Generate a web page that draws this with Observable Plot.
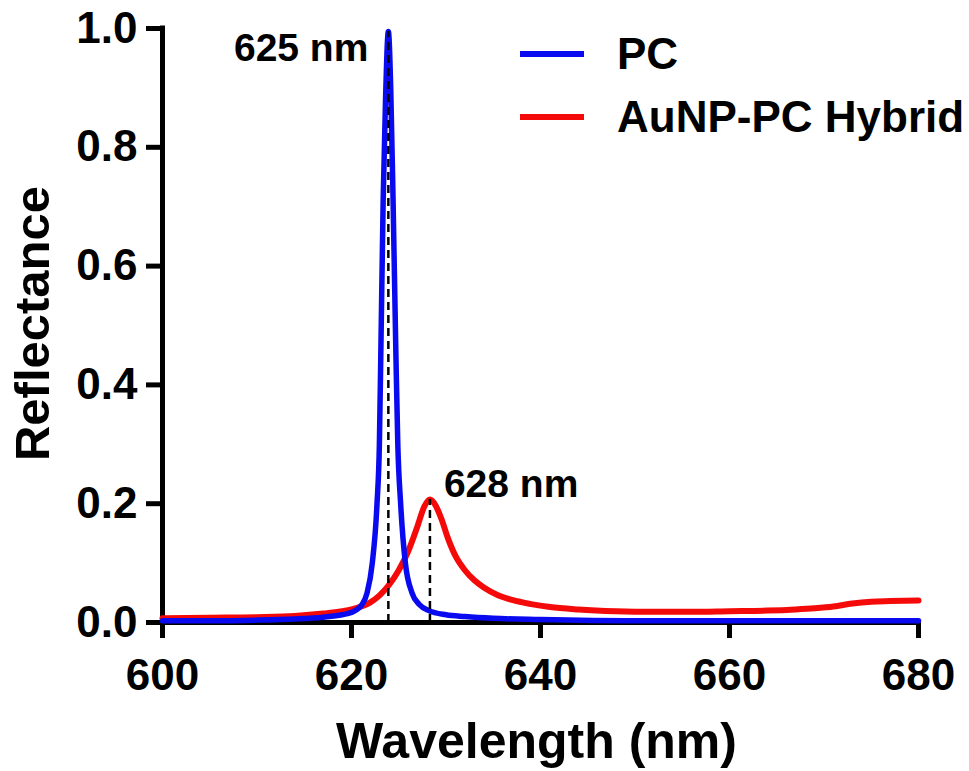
<!DOCTYPE html>
<html>
<head>
<meta charset="utf-8">
<script src="https://cdn.jsdelivr.net/npm/d3@7"></script>
<script src="https://cdn.jsdelivr.net/npm/@observablehq/plot@0.6"></script>
<style>
  html, body { margin: 0; padding: 0; background: #fff; }
  #wrap { position: relative; width: 969px; height: 771px; font-family: "Liberation Sans", Arial, sans-serif; }
  #legend { position: absolute; left: 0; top: 0; width: 969px; height: 771px; pointer-events: none; }
  .item { position: absolute; left: 520px; display: flex; align-items: center; height: 50px; }
  .sw { width: 64px; height: 6px; margin-right: 33px; }
  .lab { font-size: 44px; font-weight: bold; color: #000; white-space: nowrap; }
</style>
</head>
<body>
<div id="wrap">
  <div id="chart"></div>
  <div id="legend"></div>
</div>
<script>
// ---- Data ----
const seriesNames = ["PC", "AuNP-PC Hybrid"];
const seriesColors = ["#0a0af0", "#f50a0a"];

const pcWavelength = [600, 605, 610, 614, 617, 619, 620, 620.6, 621.1, 621.65, 622.2, 622.7, 622.95, 623.1, 623.35, 623.6, 623.9, 624.15, 624.4, 624.7, 624.9, 625.2, 625.7, 626.4, 627.2, 628.2, 630, 632, 635, 640, 650, 665, 680];
const pcReflectance = [0.003, 0.003, 0.004, 0.006, 0.009, 0.013, 0.017, 0.022, 0.030, 0.05, 0.10, 0.20, 0.30, 0.45, 0.71, 0.88, 0.995, 0.90, 0.71, 0.45, 0.30, 0.20, 0.10, 0.05, 0.03, 0.02, 0.013, 0.01, 0.007, 0.005, 0.003, 0.003, 0.003];

const hybridWavelength = [600, 605, 610, 614, 617, 619, 620, 621, 622, 623, 624, 625, 626, 627, 627.7, 628.3, 628.9, 629.5, 630.2, 631, 632, 633, 634, 635.5, 637, 639, 641, 644, 648, 652, 656, 660, 664, 667, 669, 671, 673, 675, 677, 680];
const hybridReflectance = [0.007, 0.008, 0.009, 0.011, 0.015, 0.019, 0.022, 0.027, 0.034, 0.046, 0.064, 0.088, 0.12, 0.163, 0.195, 0.207, 0.197, 0.175, 0.142, 0.112, 0.088, 0.071, 0.059, 0.046, 0.038, 0.031, 0.026, 0.022, 0.019, 0.018, 0.018, 0.019, 0.02, 0.022, 0.024, 0.027, 0.032, 0.035, 0.036, 0.037];

const peakWavelength = [623.9, 628.3];
const peakReflectance = [0.995, 0.207];
const peakLabels = ["625 nm", "628 nm"];

const xTicks = [600, 620, 640, 660, 680];
const yTicks = [0, 0.2, 0.4, 0.6, 0.8, 1.0];
const xLabel = "Wavelength (nm)";
const yLabel = "Reflectance";

// ---- Build tables ----
const pc = pcWavelength.map((w, i) => ({w, r: pcReflectance[i]}));
const hybrid = hybridWavelength.map((w, i) => ({w, r: hybridReflectance[i]}));
const peaks = peakWavelength.map((w, i) => ({w, r: peakReflectance[i], label: peakLabels[i]}));

const font = '"Liberation Sans", Arial, sans-serif';

const chart = Plot.plot({
  width: 969,
  height: 771,
  marginLeft: 162,
  marginRight: 51,
  marginTop: 28,
  marginBottom: 149,
  style: {fontFamily: font, fontWeight: "bold", color: "#000", background: "#fff", overflow: "visible"},
  x: {domain: [600, 680]},
  y: {domain: [0, 1]},
  marks: [
    Plot.axisX({ticks: xTicks, tickSize: 16, tickPadding: 20, strokeWidth: 5, fontSize: 44, fontWeight: "bold", tickFormat: d => String(d), label: null}),
    Plot.axisY({ticks: yTicks, tickSize: 16, tickPadding: 9, strokeWidth: 5, fontSize: 44, fontWeight: "bold", tickFormat: d3.format(".1f"), label: null}),
    Plot.ruleY([0], {x1: 600, x2: 680, stroke: "#000", strokeWidth: 5, strokeLinecap: "square"}),
    Plot.ruleX([600], {y1: 0, y2: 1, stroke: "#000", strokeWidth: 5, strokeLinecap: "square"}),
    Plot.line(hybrid, {x: "w", y: "r", stroke: seriesColors[1], strokeWidth: 6, curve: "monotone-x"}),
    Plot.line(pc, {x: "w", y: "r", stroke: seriesColors[0], strokeWidth: 5.5, curve: "monotone-x"}),
    Plot.ruleX(peaks, {x: "w", y1: 0, y2: "r", stroke: "#000", strokeWidth: 2.5, strokeDasharray: "8,5"}),
    Plot.text(peaks.slice(0, 1), {x: "w", y: "r", text: "label", textAnchor: "end", dx: -20, dy: 17, fontSize: 39, fontWeight: "bold", fill: "#000"}),
    Plot.text(peaks.slice(1, 2), {x: "w", y: "r", text: "label", textAnchor: "start", dx: 14, dy: -15, fontSize: 39, fontWeight: "bold", fill: "#000"}),
    Plot.text([xLabel], {frameAnchor: "bottom", textAnchor: "middle", lineAnchor: "bottom", dx: -4, dy: 135, fontSize: 50, fontWeight: "bold", fill: "#000"}),
    Plot.text([yLabel], {frameAnchor: "left", textAnchor: "middle", lineAnchor: "middle", rotate: -90, dx: -129, dy: -2, fontSize: 49, fontWeight: "bold", fill: "#000"})
  ]
});
document.getElementById("chart").appendChild(chart);

// ---- Legend (HTML, inside the plot area at top right) ----
const legend = document.getElementById("legend");
const legendTops = [29, 92];
seriesNames.forEach((name, i) => {
  const item = document.createElement("div");
  item.className = "item";
  item.style.top = legendTops[i] + "px";
  const sw = document.createElement("div");
  sw.className = "sw";
  sw.style.background = seriesColors[i];
  const lab = document.createElement("span");
  lab.className = "lab";
  lab.textContent = name;
  item.appendChild(sw);
  item.appendChild(lab);
  legend.appendChild(item);
});
</script>
</body>
</html>
